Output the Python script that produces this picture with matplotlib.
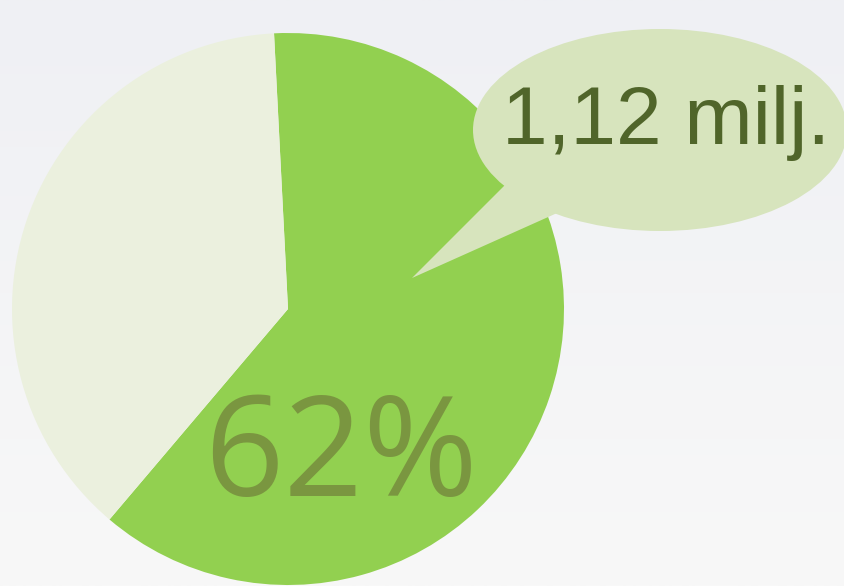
import numpy as np
import matplotlib
matplotlib.use("Agg")
import matplotlib.pyplot as plt
import matplotlib.colors as mcolors
from matplotlib.patches import Ellipse, Polygon

# data
shares = [62, 38]
share_colors = ["#92d050", "#ebf0de"]
pct_label = "62%"
callout_label = "1,12 milj."

W, H = 844, 586
fig = plt.figure(figsize=(W / 100, H / 100), dpi=100)
ax = fig.add_axes([0, 0, 1, 1])

# background gradient (top bluish grey -> bottom near white)
grad = np.linspace(0, 1, 256).reshape(-1, 1)
bg = mcolors.LinearSegmentedColormap.from_list("bg", ["#eff0f4", "#f8f8f8"])
ax.imshow(grad, cmap=bg, extent=[0, W, 0, H], origin="upper", aspect="auto", zorder=0)

# pie
cx, cy, r = 288, H - 309, 276
ax.pie(shares, colors=share_colors, startangle=92.9, counterclock=False,
       center=(cx, cy), radius=r, wedgeprops=dict(linewidth=0, zorder=1))

# callout bubble
bubble = "#d7e4bd"
tail = Polygon([(412, H - 278), (515, H - 175), (575, H - 205)], closed=True,
               facecolor=bubble, edgecolor="none", zorder=2)
ax.add_patch(tail)
ax.add_patch(Ellipse((660, H - 130), 374, 202, facecolor=bubble, edgecolor="none", zorder=3))
ax.text(502, H - 144, callout_label, ha="left", va="baseline", fontsize=59,
        family="Liberation Sans", color="#50652a", zorder=4)

ax.text(204, H - 496, pct_label, ha="left", va="baseline", fontsize=100,
        family="Open Sans", color="#7a9640", zorder=4)

ax.set_xlim(0, W)
ax.set_ylim(0, H)
ax.set_aspect("auto")
ax.axis("off")

fig.savefig("out.png", dpi=100)
